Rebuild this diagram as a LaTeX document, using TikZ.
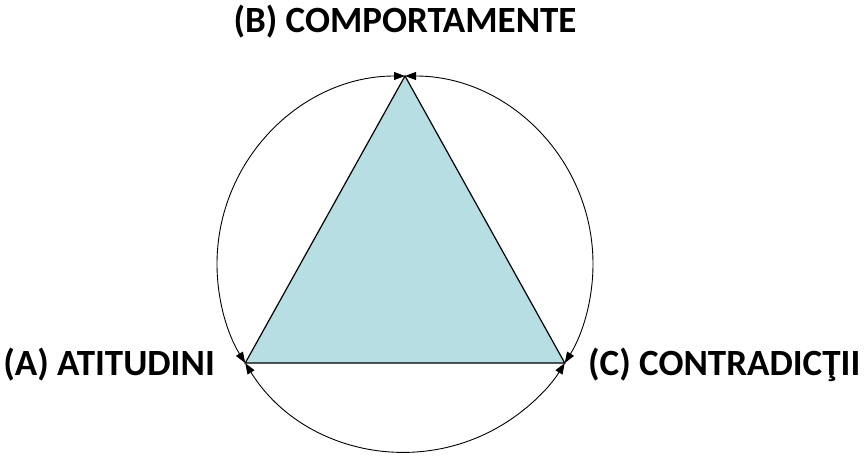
\documentclass[tikz,border=0pt]{standalone}
\usepackage{fontspec}
\setmainfont{Carlito}
\usetikzlibrary{arrows.meta,positioning,calc}
\definecolor{trifill}{RGB}{183,222,226}
\tikzset{
  vlab/.style={font=\fontsize{37}{42}\selectfont\bfseries, text=black, inner sep=0pt},
  tri/.style={draw=black, fill=trifill, line width=1.2pt, line join=miter},
  cyc/.style={{Triangle[length=11pt,width=8pt]}-{Triangle[length=11pt,width=8pt]}, black, line width=0.9pt},
}

\begin{document}
\begin{tikzpicture}[x=1pt,y=1pt]
\useasboundingbox (0,0) rectangle (868,456);
\coordinate (O) at (405,192);
\coordinate (B) at (405,380);
\coordinate (A) at ($(O)+(211.8:188)$);
\coordinate (C) at ($(O)+(-31.8:188)$);
% triangle
\draw[tri] (A) -- (B) -- (C) -- cycle;
% circular arrows
\draw[cyc] (B) arc[start angle=90, end angle=211.8, radius=188];
\draw[cyc] (B) arc[start angle=90, end angle=-31.8, radius=188];
\draw[cyc] (A) arc[start angle=211.8, end angle=328.2, radius=188];
% labels
\node[vlab] (labB) at (405,434) {(B) COMPORTAMENTE};
\node[vlab, anchor=east] (labA) at (215,91) {(A) ATITUDINI};
\node[vlab, anchor=west] (labC) at (588,91) {(C) CONTRADICŢII};
\end{tikzpicture}
\end{document}
